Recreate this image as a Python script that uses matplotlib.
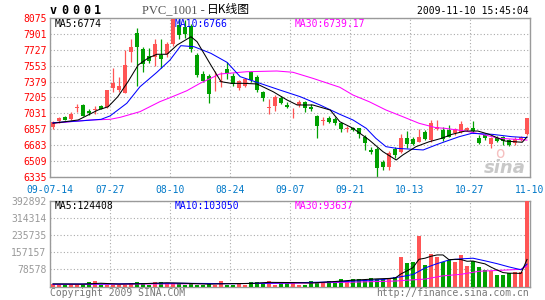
import numpy as np
import matplotlib
matplotlib.use("Agg")
import matplotlib.pyplot as plt

W, H = 545, 300

# ---- data -------------------------------------------------------------
date_labels = ['09-07-14', '07-27', '08-10', '08-24', '09-07', '09-21', '10-13', '10-27', '11-10']
price_ticks = [6335, 6509, 6683, 6857, 7031, 7205, 7379, 7553, 7727, 7901, 8075]
vol_ticks = [78578, 157157, 235735, 314314, 392892]

opens = [6878, 6950, 6992, 6970, 7095, 7123, 7057, 7068, 7115, 7101,
         7306, 7284, 7254, 7700, 7911, 7736, 7662, 7648, 7673, 7677,
         7790, 7998, 7980, 7990, 7670, 7459, 7444, 7370, 7380, 7514,
         7440, 7306, 7334, 7480, 7430, 7265, 7092, 7112, 7196, 7127,
         7085, 7120, 7155, 7104, 7003, 6950, 6984, 6975, 6923, 6865,
         6868, 6868, 6776, 6631, 6641, 6503, 6448, 6638, 6605, 6759,
         6750, 6721, 6831, 6740, 6857, 6849, 6849, 6813, 6831, 6849,
         6875, 6765, 6800, 6693, 6765, 6770, 6740, 6705, 6735, 6802]
highs = [6948, 6995, 7000, 7046, 7130, 7130, 7079, 7112, 7120, 7290,
         7531, 7433, 7721, 7845, 7969, 7760, 7743, 7842, 7845, 7810,
         8075, 8072, 8050, 8010, 7690, 7500, 7460, 7495, 7487, 7597,
         7470, 7400, 7420, 7500, 7450, 7280, 7185, 7230, 7220, 7160,
         7095, 7175, 7165, 7130, 7010, 6990, 7000, 6990, 6940, 6895,
         6880, 6875, 6790, 6665, 6660, 6520, 6620, 6665, 6810, 6835,
         6770, 6855, 6850, 6960, 6959, 6880, 6900, 6870, 6950, 6885,
         6950, 6790, 6810, 6770, 6780, 6785, 6750, 6770, 6780, 6985]
lows = [6860, 6930, 6955, 6959, 7050, 7000, 7013, 7020, 7075, 7085,
        7262, 7270, 7250, 7597, 7334, 7487, 7579, 7553, 7531, 7650,
        7770, 7845, 7860, 7706, 7430, 7370, 7150, 7278, 7317, 7410,
        7330, 7290, 7320, 7380, 7260, 7170, 7024, 7060, 7130, 7090,
        6980, 7105, 7050, 7060, 6759, 6900, 6925, 6905, 6825, 6825,
        6835, 6765, 6630, 6590, 6335, 6415, 6415, 6540, 6595, 6655,
        6680, 6715, 6735, 6720, 6850, 6725, 6770, 6800, 6820, 6840,
        6815, 6700, 6745, 6650, 6715, 6690, 6670, 6690, 6725, 6790]
closes = [6932, 6985, 6963, 7021, 7101, 7006, 7035, 7079, 7079, 7284,
          7364, 7328, 7561, 7758, 7758, 7575, 7608, 7790, 7630, 7790,
          8060, 7889, 7900, 7736, 7451, 7386, 7243, 7378, 7390, 7470,
          7353, 7386, 7407, 7396, 7287, 7200, 7098, 7207, 7150, 7105,
          7090, 7160, 7090, 7079, 6893, 6960, 6940, 6923, 6857, 6870,
          6849, 6802, 6704, 6612, 6430, 6448, 6601, 6576, 6765, 6693,
          6696, 6776, 6748, 6923, 6879, 6748, 6776, 6857, 6912, 6875,
          6842, 6710, 6765, 6759, 6730, 6728, 6685, 6755, 6770, 6977]
volumes = [10500, 10500, 4600, 10500, 10500, 10500, 21000, 26000, 7600, 7000,
           6000, 5000, 5000, 15000, 21000, 17000, 7600, 21000, 21000, 17000,
           17000, 15000, 7600, 15000, 7600, 7600, 15000, 7600, 26000, 7600,
           7600, 17000, 7600, 21000, 21000, 15000, 26000, 9000, 15000, 17000,
           21000, 9000, 9000, 27000, 21000, 21000, 24000, 24000, 35000, 27000,
           35000, 35000, 30000, 40000, 35000, 35000, 35000, 44000, 134000, 108000,
           111000, 230000, 98000, 150000, 134000, 111000, 120000, 111000, 143000, 93000,
           116000, 89000, 78000, 70000, 52000, 52000, 63000, 66000, 67000, 392892]

# moving-average curves (session index, value)
ma5_idx = [0, 4.2, 7.5, 9.2, 10.8, 12.5, 14.2, 15.8, 17.3, 19, 20.7, 23, 24, 26.3, 28,
           29.7, 31.8, 34, 36.7, 39, 40.7, 43.3, 46.2, 47.8, 50, 52.7, 55, 57.2, 58.3,
           60.5, 62.7, 64.8, 66.5, 68.7, 70.8, 72.7, 75.3, 78.2, 79]
ma5_val = [6923, 6959, 7068, 7104, 7214, 7378, 7561, 7634, 7678, 7678, 7780, 7870, 7816,
           7561, 7378, 7360, 7360, 7353, 7268, 7178, 7123, 7123, 7068, 6940, 6868, 6740,
           6612, 6521, 6576, 6667, 6721, 6759, 6802, 6838, 6838, 6802, 6729, 6715, 6774]
ma10_idx = [0, 5, 8, 9.5, 12.3, 14.5, 17.3, 19.5, 21.3, 23.5, 26.3, 29, 31.2, 34.5, 37.8,
            41.2, 44.5, 47.8, 50, 52.2, 53.8, 55.5, 57.2, 59.3, 61.7, 63.8, 65.3, 67.7,
            69.8, 73.2, 76.5, 79]
ma10_val = [6929, 6951, 6966, 7003, 7142, 7323, 7480, 7615, 7772, 7761, 7689, 7590, 7433,
            7360, 7287, 7214, 7123, 7021, 6959, 6868, 6759, 6667, 6649, 6641, 6631, 6685,
            6721, 6776, 6813, 6802, 6776, 6766]
ma30_idx = [0, 6.2, 9.5, 11.2, 14.5, 17.8, 19.5, 22.3, 24.5, 27.8, 32.3, 37.3, 40, 43.3,
            47.8, 50, 52.7, 55.5, 58.3, 61, 63.8, 65.3, 68.7, 71.5, 74.3, 77, 79]
ma30_val = [6923, 6959, 6966, 6988, 7050, 7159, 7203, 7279, 7360, 7462, 7487, 7495, 7481,
            7415, 7317, 7232, 7159, 7068, 6995, 6923, 6875, 6868, 6838, 6802, 6759, 6748,
            6739.17]

vma5_idx = [0, 5, 8, 11, 15, 19, 22, 26, 29, 33, 36, 40, 43, 47, 50, 54, 57, 58, 59, 60,
            61, 62, 63, 64, 65, 66, 67, 68, 69, 70, 71, 72, 73, 74, 75, 76, 77, 78, 79]
vma5_val = [12000, 11000, 15000, 11000, 13000, 17000, 15000, 11000, 13000, 14000, 19000,
            18000, 16000, 23000, 29000, 35000, 38000, 58000, 72000, 87000, 125000, 130000,
            139000, 145000, 145000, 123000, 125000, 124000, 116000, 117000, 110000, 104000,
            89000, 76000, 64000, 61000, 61000, 60000, 124408]
vma10_idx = [0, 10, 20, 30, 40, 48, 55, 58, 60, 62, 64, 66, 68, 70, 72, 74, 76, 78, 79]
vma10_val = [11000, 12000, 15000, 13000, 17000, 22000, 32000, 45000, 55000, 85000, 105000,
             122000, 127000, 130000, 118000, 105000, 90000, 77000, 103050]
vma30_idx = [0, 20, 40, 50, 57, 59, 62, 65, 68, 71, 75, 78, 79]
vma30_val = [9000, 12000, 15000, 20000, 25000, 29000, 34000, 49000, 56000, 70000, 75000,
             79000, 93637]

# ---- style ------------------------------------------------------------
UP = '#FF5555'
DOWN = '#00A000'
GRID = '#AAAAAA'
FRAME = '#9A9A9A'
MONO = 'DejaVu Sans Mono'

plt.rcParams['font.family'] = [MONO, 'Noto Sans CJK SC']

fig = plt.figure(figsize=(W / 100, H / 100), dpi=100)
fig.patch.set_facecolor('white')


def fx(x):
    return x / W


def fy(y):
    return 1 - y / H


ax = fig.add_axes([fx(50), fy(177), 480 / W, 159 / H])
axv = fig.add_axes([fx(50), fy(286.5), 480 / W, 85.5 / H])

n = len(closes)
xs = np.arange(n) + 0.5
o = np.array(opens, float)
c = np.array(closes, float)
hi = np.array(highs, float)
lo = np.array(lows, float)
up = c >= o
colors = np.where(up, UP, DOWN)

# candles
body_lo = np.minimum(o, c)
body_h = np.maximum(np.abs(c - o), 9)
ax.vlines(xs, lo, hi, colors=colors, lw=0.9, zorder=2)
ax.bar(xs, body_h, bottom=body_lo, width=0.8, color=colors, lw=0, zorder=3)

lw = 0.75
ax.plot(np.array(ma30_idx) + 0.5, ma30_val, color='#FF00FF', lw=lw, zorder=4)
ax.plot(np.array(ma10_idx) + 0.5, ma10_val, color='#0000FF', lw=lw, zorder=5)
ax.plot(np.array(ma5_idx) + 0.5, ma5_val, color='black', lw=lw, zorder=6)

ax.set_xlim(0, n)
ax.set_ylim(price_ticks[0], price_ticks[-1])
ax.set_yticks(price_ticks)
ax.set_yticklabels([str(t) for t in price_ticks])
ax.set_xticks(np.arange(0, n + 1, 10))
ax.set_xticklabels(date_labels)
ax.tick_params(axis='y', length=0, pad=2.5, labelsize=7, labelcolor='#FF0000')
ax.tick_params(axis='x', length=0, pad=5.5, labelsize=7, labelcolor='#0078C8')
ax.grid(True, color=GRID, ls=(0, (1, 2)), lw=0.8, zorder=0)

# volume
axv.bar(xs, volumes, width=0.8, color=colors, lw=0, zorder=3)
axv.plot(np.array(vma30_idx) + 0.5, vma30_val, color='#FF00FF', lw=lw, zorder=4)
axv.plot(np.array(vma10_idx) + 0.5, vma10_val, color='#0000FF', lw=lw, zorder=5)
axv.plot(np.array(vma5_idx) + 0.5, vma5_val, color='black', lw=lw, zorder=6)
axv.set_xlim(0, n)
axv.set_ylim(0, vol_ticks[-1])
axv.set_yticks(vol_ticks)
axv.set_yticklabels([str(t) for t in vol_ticks])
axv.set_xticks(np.arange(0, n + 1, 10))
axv.set_xticklabels([])
axv.tick_params(axis='y', length=0, pad=2.5, labelsize=7, labelcolor='#999999')
axv.tick_params(axis='x', length=0)
axv.grid(True, color=GRID, ls=(0, (1, 2)), lw=0.8, zorder=0)

for a in (ax, axv):
    a.set_axisbelow(True)
    for s in a.spines.values():
        s.set_color(FRAME)
        s.set_linewidth(1)

# header
for k, ch in enumerate('v0001'):
    fig.text(fx(50 + 11 * k), fy(11), ch, fontsize=8.5, fontweight='bold',
             family=MONO, va='center', ha='left', color='black')
fig.text(fx(142), fy(10), 'PVC_1001 -', fontsize=9, family='Liberation Serif',
         color='#555555', va='center', ha='left')
fig.text(fx(207), fy(10), '日K线图', fontsize=8.5, family=['Noto Sans CJK SC'],
         color='black', va='center', ha='left')
fig.text(fx(529), fy(11.5), '2009-11-10 15:45:04', fontsize=7, color='black',
         va='center', ha='right')

fig.text(fx(55), fy(24), 'MA5:6774', fontsize=7, color='black', va='center')
fig.text(fx(175), fy(24), 'MA10:6766', fontsize=7, color='#0000FF', va='center')
fig.text(fx(295), fy(24), 'MA30:6739.17', fontsize=7, color='#FF00FF', va='center')

fig.text(fx(55), fy(206), 'MA5:124408', fontsize=7, color='black', va='center')
fig.text(fx(175), fy(206), 'MA10:103050', fontsize=7, color='#0000FF', va='center')
fig.text(fx(295), fy(206), 'MA30:93637', fontsize=7, color='#FF00FF', va='center')

# footer
fig.text(fx(50), fy(293), 'Copyright 2009 SINA.COM', fontsize=7, color='#777777',
         va='center', ha='left')
fig.text(fx(529), fy(293), 'http://finance.sina.com.cn', fontsize=7, color='#777777',
         va='center', ha='right')

# faint watermark
fig.text(fx(505), fy(168), 'sina', fontsize=13, fontweight='bold', style='italic',
         color='#C8C8C8', va='center', ha='center', zorder=1, family='DejaVu Sans')
fig.text(fx(500), fy(153), 'o', fontsize=11, color='#F5C0C0', va='center',
         ha='center', zorder=1, family='DejaVu Sans')

fig.savefig('out.png', dpi=100, facecolor='white')
